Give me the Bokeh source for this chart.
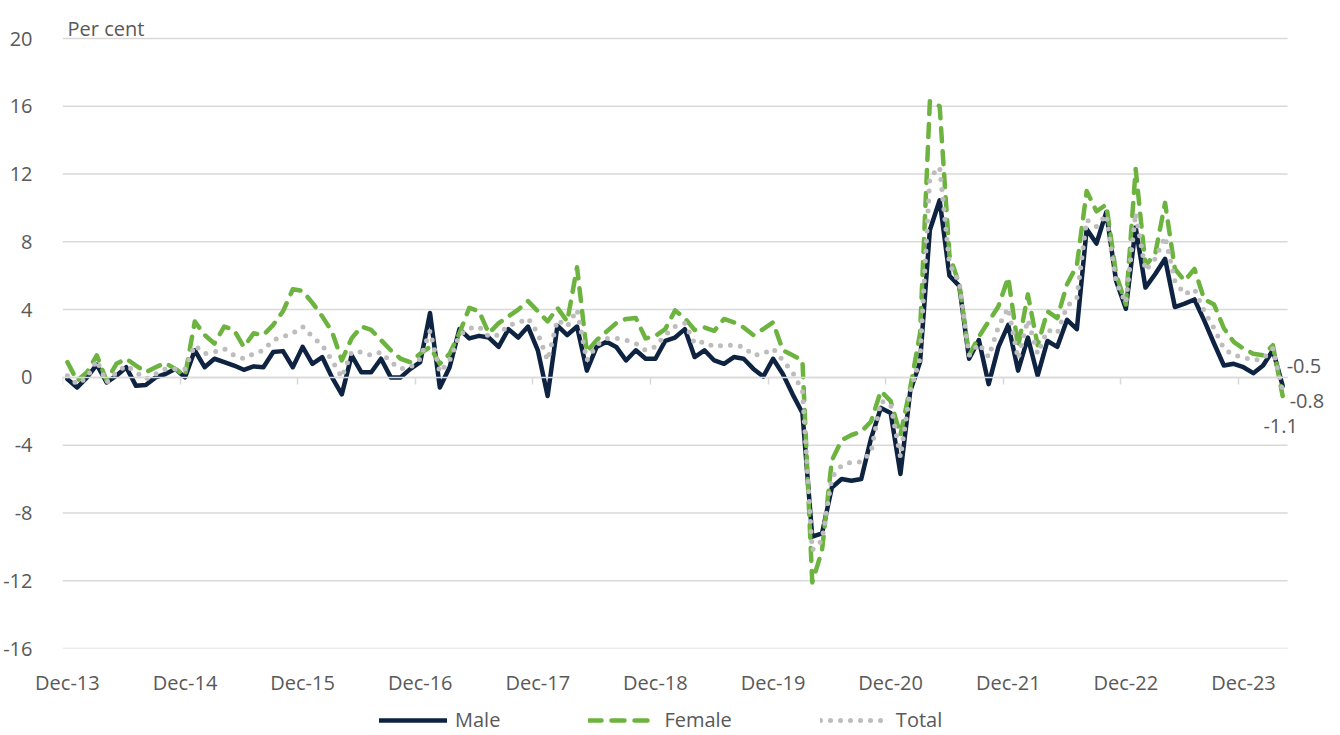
import pandas as pd
from bokeh.plotting import figure
from bokeh.layouts import column
from bokeh.models import (ColumnDataSource, FixedTicker, LinearAxis, Range1d,
                          Legend, LegendItem, Label)
from bokeh.embed import file_html
from bokeh.resources import INLINE

# ---------------- data ----------------
months = pd.date_range("2013-12-01", periods=125, freq="MS")
month_labels = [d.strftime("%b-%y") for d in months]

male = [-0.1, -0.6, 0.0, 0.75, -0.3, 0.1, 0.6, -0.5, -0.45, 0.0, 0.2, 0.5, 0.0,
        1.6, 0.6, 1.1, 0.9, 0.7, 0.45, 0.65, 0.6, 1.5, 1.55, 0.6, 1.8,
        0.8, 1.2, 0.0, -1.0, 1.3, 0.3, 0.3, 1.1, 0.0, 0.0, 0.5, 0.9,
        3.8, -0.6, 0.6, 2.85, 2.3, 2.45, 2.35, 1.8, 2.85, 2.35, 3.0, 1.6,
        -1.1, 3.05, 2.5, 3.0, 0.4, 1.8, 2.1, 1.8, 1.0, 1.6, 1.1, 1.1,
        2.15, 2.35, 2.85, 1.2, 1.6, 1.0, 0.8, 1.2, 1.1, 0.5, 0.05, 1.1,
        0.2, -1.0, -2.1, -9.4, -9.2, -6.5, -6.0, -6.1, -6.0, -3.6, -1.8, -2.1,
        -5.7, -0.8, 0.9, 8.7, 10.45, 6.0, 5.4, 1.1, 2.2, -0.4, 1.8, 3.1,
        0.4, 2.35, 0.1, 2.15, 1.8, 3.4, 2.85, 8.75, 7.9, 9.75, 5.7, 4.05,
        8.85, 5.3, 6.1, 7.0, 4.15, 4.35, 4.6, 3.35, 2.0, 0.7, 0.8, 0.6,
        0.25, 0.7, 1.6, -0.5]

female = [0.9, -0.2, 0.3, 1.3, -0.2, 0.8, 1.1, 0.7, 0.3, 0.6, 0.85, 0.5, 0.1,
          3.3, 2.5, 2.0, 3.0, 2.8, 1.8, 2.6, 2.5, 3.1, 3.9, 5.2, 5.1,
          4.4, 3.6, 2.7, 1.0, 2.3, 3.0, 2.8, 2.2, 1.6, 1.1, 0.9, 1.4,
          1.8, 0.8, 1.4, 2.6, 4.1, 3.9, 2.6, 3.2, 3.6, 4.0, 4.5, 3.9,
          3.3, 4.1, 3.3, 6.5, 1.5, 2.2, 2.7, 3.2, 3.45, 3.5, 2.3, 2.45,
          2.85, 3.95, 3.5, 2.8, 2.95, 2.75, 3.45, 3.25, 2.95, 2.5, 2.85, 3.25,
          1.6, 1.3, 1.0, -12.1, -10.2, -4.9, -3.7, -3.4, -3.2, -2.6, -0.8, -1.4,
          -3.4, -0.6, 2.6, 16.3, 16.0, 7.2, 5.5, 1.3, 2.4, 3.3, 4.2, 5.9,
          1.8, 4.9, 1.9, 3.9, 3.5, 5.5, 6.6, 11.0, 9.8, 10.2, 6.1, 4.3,
          12.3, 6.6, 7.3, 10.3, 6.4, 5.7, 6.4, 4.6, 4.3, 2.9, 2.1, 1.7,
          1.4, 1.3, 1.9, -1.1]

total = [0.1, -0.4, 0.0, 1.0, -0.3, 0.3, 0.7, 0.3, -0.1, 0.2, 0.5, 0.5, 0.5,
         1.9, 1.4, 1.5, 1.7, 1.3, 1.1, 1.4, 1.6, 2.2, 2.4, 2.6, 3.0,
         2.4, 1.9, 1.0, 0.0, 1.5, 1.5, 1.3, 1.5, 0.9, 0.5, 0.6, 1.1,
         2.75, 0.3, 1.0, 2.5, 2.9, 3.0, 2.4, 2.5, 3.1, 3.2, 3.5, 2.6,
         1.0, 3.4, 3.0, 4.0, 1.0, 1.9, 2.3, 2.3, 2.2, 2.0, 1.6, 1.8,
         2.5, 3.0, 3.2, 2.0, 2.1, 1.8, 1.9, 1.9, 1.8, 1.3, 1.4, 1.7,
         1.0, 0.3, -0.8, -10.2, -9.6, -5.9, -5.2, -5.0, -5.0, -4.4, -1.4, -1.6,
         -4.7, -0.8, 1.1, 11.8, 12.4, 6.7, 5.6, 1.3, 2.0, 1.2, 3.0, 4.1,
         1.1, 3.4, 1.4, 2.8, 2.6, 4.2, 4.7, 9.3, 8.9, 9.6, 5.6, 4.4,
         9.7, 6.3, 7.0, 8.3, 5.7, 4.9, 5.2, 3.9, 2.9, 1.7, 1.3, 1.2,
         1.0, 1.1, 1.7, -0.8]

y_ticks = [-16, -12, -8, -4, 0, 4, 8, 12, 16, 20]
series_names = ["Male", "Female", "Total"]

# ---------------- styling / geometry ----------------
FONT = "Open Sans"
TXT = "#595959"
GRID = "#d9d9d9"
C_MALE = "#0d2341"
C_FEMALE = "#6cb33f"
C_TOTAL = "#bdbdbd"

W = 1340
LEFT, RIGHT, BOTTOM, TOP = 60, 2, 52, 0
DATA_TOP_GAP = 38      # pixels from the frame top down to the 20 line
DATA_H = 610           # pixel height from -16 to 20
DATA_W = 1227          # pixel width of the category area
H_MAIN = TOP + DATA_TOP_GAP + DATA_H + BOTTOM
H_LEG = 735 - H_MAIN

n = len(month_labels)
frame_w = W - LEFT - RIGHT
x_start = -0.5
x_end = x_start + n * frame_w / DATA_W
y_lo, y_hi = y_ticks[0], y_ticks[-1]
y_top = y_hi + DATA_TOP_GAP * (y_hi - y_lo) / DATA_H

idx = list(range(n))
src = ColumnDataSource(dict(x=idx, male=male, female=female, total=total))

p = figure(width=W, height=H_MAIN, output_backend="svg", toolbar_location=None,
           x_range=Range1d(x_start, x_end), y_range=Range1d(y_lo, y_top),
           min_border_left=LEFT, min_border_right=RIGHT,
           min_border_top=TOP, min_border_bottom=BOTTOM)
p.outline_line_color = None
p.background_fill_color = "white"
p.xgrid.visible = False
p.ygrid.visible = False

# horizontal gridlines over the category span only
p.segment(x0=[x_start] * len(y_ticks), x1=[n - 0.5] * len(y_ticks),
          y0=y_ticks, y1=y_ticks, line_color=GRID, line_width=1.5)

# y axis
p.yaxis.ticker = FixedTicker(ticks=y_ticks)
p.yaxis.major_label_overrides = {t: str(t) for t in y_ticks}
p.yaxis.axis_line_color = None
p.yaxis.major_tick_line_color = None
p.yaxis.minor_tick_line_color = None
p.yaxis.major_label_standoff = 24
p.yaxis.major_label_text_font = FONT
p.yaxis.major_label_text_font_size = "20px"
p.yaxis.major_label_text_color = TXT

# x axis (labels at bottom)
dec_idx = [i for i, m in enumerate(month_labels) if m.startswith("Dec")]
p.xaxis.ticker = FixedTicker(ticks=dec_idx)
p.xaxis.major_label_overrides = {i: month_labels[i] for i in dec_idx}
p.xaxis.axis_line_color = None
p.xaxis.major_tick_line_color = None
p.xaxis.minor_tick_line_color = None
p.xaxis.major_label_standoff = 14
p.xaxis.major_label_text_font = FONT
p.xaxis.major_label_text_font_size = "20px"
p.xaxis.major_label_text_color = TXT

# zero axis with tick marks between categories (drawn at y = 0)
zero_axis = LinearAxis(fixed_location=0, bounds=(x_start, n - 0.5),
                       ticker=FixedTicker(ticks=[i - 0.5 for i in dec_idx]))
zero_axis.axis_line_color = GRID
zero_axis.axis_line_width = 1.5
zero_axis.major_tick_line_color = GRID
zero_axis.major_tick_line_width = 1.5
zero_axis.major_tick_out = 0
zero_axis.major_tick_in = 7
zero_axis.major_label_standoff = 0
zero_axis.minor_tick_line_color = None
zero_axis.major_label_text_font_size = "0px"
zero_axis.major_label_text_color = None
p.add_layout(zero_axis, "above")

# series styles
styles = {
    "Male": dict(line_color=C_MALE, line_width=4.5),
    "Female": dict(line_color=C_FEMALE, line_width=4.5, line_dash="13 10"),
    "Total": dict(line_color=C_TOTAL, line_width=5, line_dash="0 10"),
}
for name in series_names:
    p.line("x", name.lower(), source=src, line_join="round", line_cap="round",
           **styles[name])

# end labels
last = n - 1
for val, xo, yo, align in [(male[-1], 4, 20, "left"),
                           (total[-1], 7, -10, "left"),
                           (female[-1], -2, -30, "center")]:
    p.add_layout(Label(x=last, y=val, text=f"{val:.1f}", x_offset=xo, y_offset=yo,
                       text_align=align, text_baseline="middle",
                       text_font=FONT, text_font_size="20px", text_color=TXT))

# unit label
p.add_layout(Label(x=x_start, y=y_hi, x_offset=5, y_offset=10, text="Per cent",
                   text_align="left", text_baseline="alphabetic",
                   text_font=FONT, text_font_size="20px", text_color=TXT))

# ---------------- legend strip ----------------
pl = figure(width=W, height=H_LEG, output_backend="svg", toolbar_location=None,
            x_range=Range1d(0, W), y_range=Range1d(0, H_LEG),
            x_axis_type=None, y_axis_type=None,
            min_border_left=0, min_border_right=0,
            min_border_top=0, min_border_bottom=0)
pl.outline_line_color = None
pl.xgrid.visible = False
pl.ygrid.visible = False
items = []
for name in series_names:
    r = pl.line(x=[0], y=[float("nan")], line_join="round", line_cap="round",
                **styles[name])
    items.append(LegendItem(label=name, renderers=[r]))
legend = Legend(items=items, orientation="horizontal", location=(317, 2),
                glyph_width=68, glyph_height=20, label_height=20,
                label_standoff=8, spacing=88, padding=0, margin=0,
                border_line_color=None, background_fill_alpha=0,
                label_text_font=FONT, label_text_font_size="20px",
                label_text_color=TXT)
pl.add_layout(legend, "center")

layout = column(p, pl, spacing=0)
open("out.html", "w").write(file_html(layout, INLINE))
